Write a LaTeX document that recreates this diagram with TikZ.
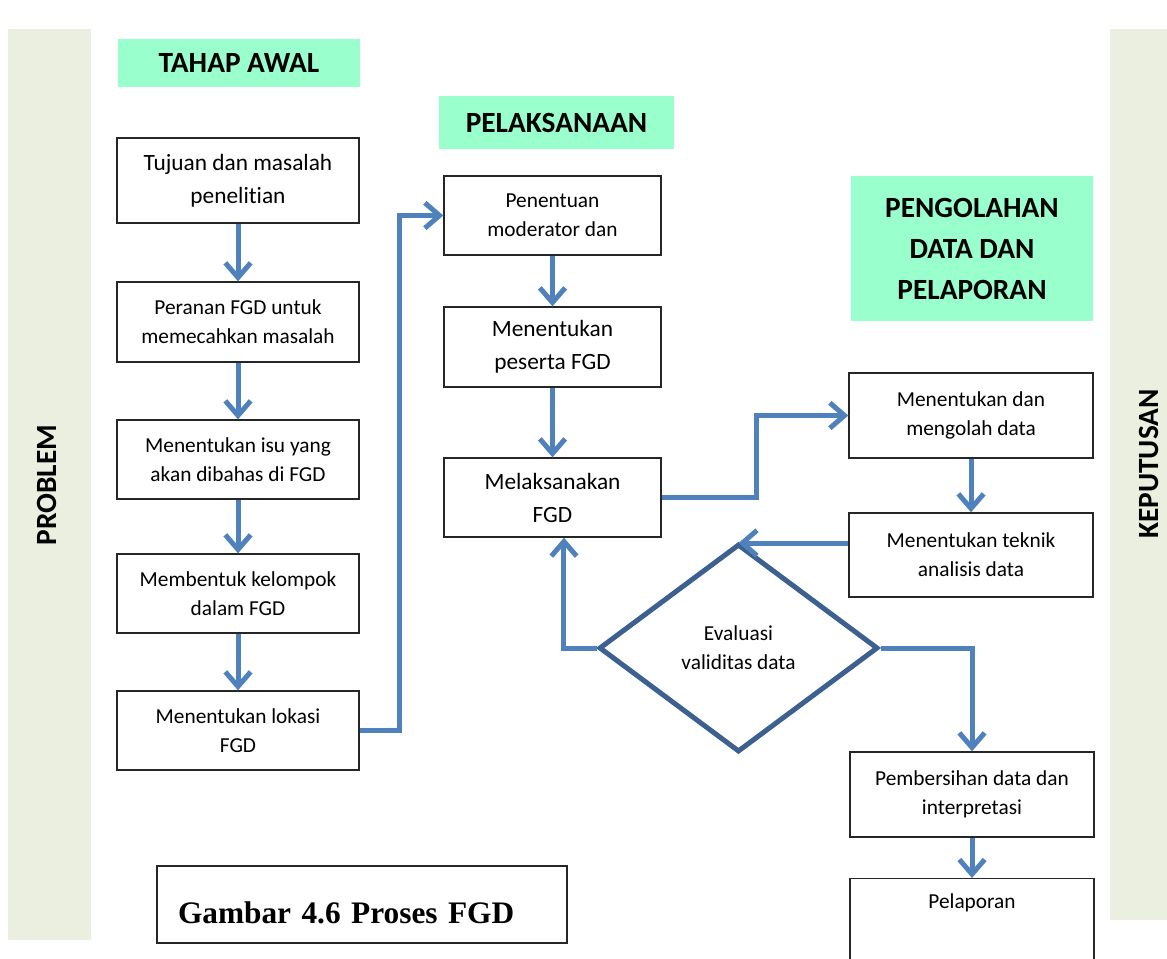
\documentclass[tikz,border=0pt]{standalone}
\usepackage{fontspec}
\setmainfont{Carlito}[Ligatures=NoCommon]
\newfontfamily\judulfont{Liberation Serif}
\usepackage{tikz}
\usetikzlibrary{positioning, arrows.meta, shapes.geometric, calc}
\usepackage{xcolor}
\definecolor{stripBg}{HTML}{EBEFDF}
\definecolor{hijauMint}{HTML}{99FFCC}
\definecolor{biruPanah}{HTML}{4F81BD}
\definecolor{biruTua}{HTML}{3C6090}

\begin{document}
\begin{tikzpicture}[x=0.75pt, y=-0.75pt,
    kotak/.style={draw=black!85, line width=1pt, fill=white, align=center, inner sep=2pt, font=\fontsize{16}{21.75}\selectfont},
    kotakL/.style={kotak, minimum width=181.5pt},
    kotakM/.style={kotak, minimum width=162.75pt},
    kotakR/.style={kotak, minimum width=183pt},
    besar/.style={font=\fontsize{17.5}{24.75}\selectfont},
    judul/.style={fill=hijauMint, align=center, inner sep=0pt, font=\fontsize{22}{30.75}\selectfont\bfseries},
    strip/.style={fill=stripBg, inner sep=0pt},
    sisi/.style={font=\fontsize{22}{26}\selectfont\bfseries, rotate=90},
    panah/.style={biruPanah, line width=3.75pt, -{Straight Barb[length=11pt,width=19pt]}}]
    \useasboundingbox (0,0) rectangle (1167,959);

    \node[strip, minimum width=62.25pt, minimum height=683.25pt] (kiri) at (49.5,484.5) {};
    \node[sisi] (problem) at (47,485) {PROBLEM};
    \node[strip, minimum width=42.75pt, minimum height=668.25pt] (kanan) at (1138.5,474.5) {};
    \node[sisi] (keputusan) at (1149,464) {KEPUTUSAN};

    \node[judul, minimum width=181.5pt, minimum height=36pt] (awal) at (239,63) {TAHAP AWAL};
    \node[judul, minimum width=176.25pt, minimum height=39.75pt] (laksanaan) at (556.5,122.5) {PELAKSANAAN};
    \node[judul, minimum width=181.5pt, minimum height=108.75pt] (olahan) at (972,248.5) {PENGOLAHAN\\DATA DAN\\PELAPORAN};

    \node[kotakL, besar, minimum height=63.75pt] (tujuan) at (238,180.5) {Tujuan dan masalah\\penelitian};
    \node[kotakL, minimum height=60pt] (peranan) at (238,322) {Peranan FGD untuk\\memecahkan masalah};
    \node[kotakL, minimum height=59.25pt] (isu) at (238,459.5) {Menentukan isu yang\\akan dibahas di FGD};
    \node[kotakL, minimum height=59.25pt] (kelompok) at (238,593.5) {Membentuk kelompok\\dalam FGD};
    \node[kotakL, minimum height=59.25pt] (lokasi) at (238,730.5) {Menentukan lokasi\\FGD};

    \node[kotakM, minimum height=59.25pt] (moderator) at (552.5,215.5) {Penentuan\\moderator dan};
    \node[kotakM, besar, minimum height=60pt] (peserta) at (552.5,347) {Menentukan\\peserta FGD};
    \node[kotakM, besar, minimum height=59.25pt] (pelaksanaan) at (552.5,497.5) {Melaksanakan\\FGD};

    \node[diamond, draw=biruTua, line width=3.75pt, fill=white, minimum width=209.25pt, minimum height=156pt, inner sep=0pt, align=center, font=\fontsize{16}{21.75}\selectfont] (evaluasi) at (738.5,648) {Evaluasi\\validitas data};

    \node[kotakR, minimum height=63.75pt] (olah) at (971,415.5) {Menentukan dan\\mengolah data};
    \node[kotakR, minimum height=63pt] (teknik) at (971,555) {Menentukan teknik\\analisis data};
    \node[kotakR, minimum height=63.75pt] (bersih) at (972,794.5) {Pembersihan data dan\\interpretasi};
    \node[kotakR, anchor=north, minimum height=69pt, inner ysep=11pt, text depth=36pt] (lapor) at (972,878) {Pelaporan};

    \node[draw=black!85, line width=1pt, minimum width=307.5pt, inner xsep=15.75pt, inner ysep=0pt, text width=276pt, text height=42.75pt, text depth=15pt, align=left, font=\judulfont\bfseries\fontsize{23.5}{28}\selectfont] (gambar) at (362,904.5) {Gambar 4.6 Proses FGD};

    \draw[panah] (tujuan.south) -- (peranan.north);
    \draw[panah] (peranan.south) -- (isu.north);
    \draw[panah] (isu.south) -- (kelompok.north);
    \draw[panah] (kelompok.south) -- (lokasi.north);
    \draw[panah] (lokasi.east) -- ++(40,0) |- (moderator.west);
    \draw[panah] (moderator.south) -- (peserta.north);
    \draw[panah] (peserta.south) -- (pelaksanaan.north);
    \draw[panah] (pelaksanaan.east) -- ++(95,0) |- (olah.west);
    \draw[panah] (olah.south) -- (teknik.north);
    \draw[panah] ([yshift=9pt]teknik.west) -- ([yshift=9pt]teknik.west -| evaluasi.north);
    \draw[panah] (evaluasi.west) -| ([xshift=8.6pt]pelaksanaan.south);
    \draw[panah] (evaluasi.east) -| (bersih.north);
    \draw[panah] (bersih.south) -- (lapor.north);
\end{tikzpicture}
\end{document}
